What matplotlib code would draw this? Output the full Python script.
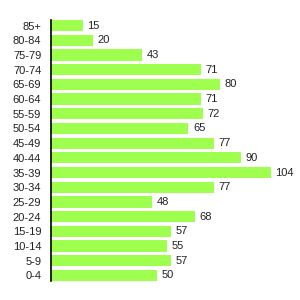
import matplotlib
matplotlib.use("Agg")
import matplotlib.pyplot as plt

# ---- data (bottom to top) ----
age_groups = ["0-4", "5-9", "10-14", "15-19", "20-24", "25-29", "30-34", "35-39",
              "40-44", "45-49", "50-54", "55-59", "60-64", "65-69", "70-74",
              "75-79", "80-84", "85+"]
counts = [50, 57, 55, 57, 68, 48, 77, 104, 90, 77, 65, 72, 71, 80, 71, 43, 20, 15]

BAR_COLOR = "#9EFF4F"
TEXT_COLOR = "#222222"

plt.rcParams["font.family"] = ["Liberation Sans", "DejaVu Sans"]

fig = plt.figure(figsize=(3, 3), dpi=100)
ax = fig.add_axes([51 / 300, 19 / 300, 0.80, 261 / 300])

ypos = range(len(age_groups))
bars = ax.barh(ypos, counts, height=0.76, color=BAR_COLOR, linewidth=0)

for y, v in zip(ypos, counts):
    ax.text(v + 2.2, y, str(v), va="center", ha="left", fontsize=8, color=TEXT_COLOR)

ax.set_ylim(-0.38, len(age_groups) - 0.62)
ax.set_xlim(0, 0.80 * 300 / 2.113)
ax.set_yticks(list(ypos))
ax.set_yticklabels(age_groups, fontsize=8, color=TEXT_COLOR)
ax.tick_params(axis="y", length=0, pad=7)
ax.set_xticks([])

for side in ["top", "right", "bottom"]:
    ax.spines[side].set_visible(False)
ax.spines["left"].set_color("black")
ax.spines["left"].set_linewidth(1.2)

fig.savefig("out.png", dpi=100)
